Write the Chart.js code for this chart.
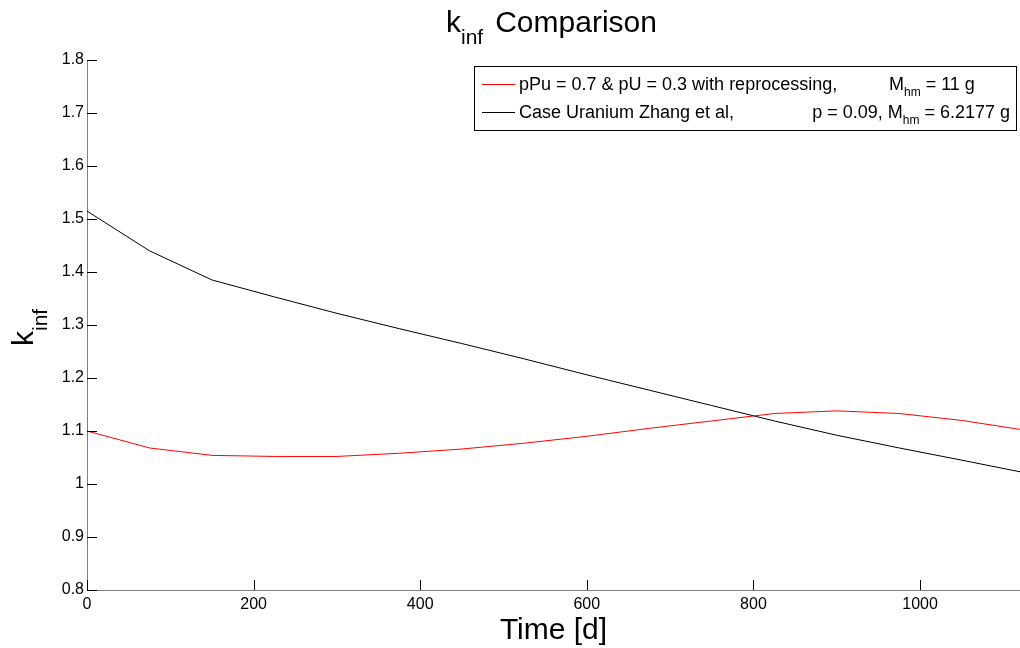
<!DOCTYPE html>
<html>
<head>
<meta charset="utf-8">
<script src="https://cdn.jsdelivr.net/npm/chart.js@4.4.1/dist/chart.umd.min.js"></script>
<style>
  html, body { margin: 0; padding: 0; background: #fff; }
  #wrap { width: 1020px; height: 648px; }
</style>
</head>
<body>
<div id="wrap"><canvas id="kinf"></canvas></div>
<script>
// time steps [d]
const days = [0, 75, 150, 225, 300, 375, 450, 525, 600, 675, 750, 825, 900, 975, 1050, 1120];
// k_inf, pPu = 0.7 & pU = 0.3 with reprocessing
const kinfPu = [1.100, 1.068, 1.054, 1.052, 1.052, 1.058, 1.066, 1.077, 1.090, 1.105, 1.119, 1.133, 1.138, 1.133, 1.120, 1.103];
// k_inf, uranium case Zhang et al
const kinfU = [1.515, 1.440, 1.385, 1.353, 1.322, 1.293, 1.265, 1.236, 1.206, 1.177, 1.148, 1.119, 1.092, 1.068, 1.045, 1.023];

const xTicks = [0, 200, 400, 600, 800, 1000];
const yTicks = [0.8, 0.9, 1.0, 1.1, 1.2, 1.3, 1.4, 1.5, 1.6, 1.7, 1.8];

const FONT = '"Liberation Sans", Arial, sans-serif';

function pts(xs, ys) {
  return xs.map((x, i) => ({ x: x, y: ys[i] }));
}

// draws base text with a subscript, returns end x
function subText(ctx, x, y, base, sub, size, subSize, drop) {
  ctx.font = size + 'px ' + FONT;
  ctx.fillText(base, x, y);
  x += ctx.measureText(base).width;
  ctx.font = subSize + 'px ' + FONT;
  ctx.fillText(sub, x, y + drop);
  return x + ctx.measureText(sub).width;
}

const decor = {
  id: 'decor',
  afterDatasetsDraw(chart) {
    const ctx = chart.ctx;
    const a = chart.chartArea;
    const xs = chart.scales.x, ys = chart.scales.y;
    ctx.save();

    // inward tick marks
    ctx.strokeStyle = '#000';
    ctx.lineWidth = 1;
    ctx.beginPath();
    xs.ticks.forEach(t => {
      const px = Math.round(xs.getPixelForValue(t.value)) + 0.5;
      ctx.moveTo(px, a.bottom);
      ctx.lineTo(px, a.bottom - 10);
    });
    ys.ticks.forEach(t => {
      const py = Math.round(ys.getPixelForValue(t.value)) + 0.5;
      ctx.moveTo(a.left, py);
      ctx.lineTo(a.left + 10, py);
    });
    ctx.stroke();

    ctx.fillStyle = '#000';
    ctx.textBaseline = 'alphabetic';
    ctx.textAlign = 'left';

    // title
    let tx = subText(ctx, 446, 32, 'k', 'inf', 30, 21, 12);
    ctx.font = '30px ' + FONT;
    ctx.fillText('Comparison', tx + 12, 32);

    // x axis title
    ctx.font = '30px ' + FONT;
    ctx.textAlign = 'center';
    ctx.fillText('Time [d]', (a.left + a.right) / 2, 639);
    ctx.textAlign = 'left';

    // y axis title, rotated
    ctx.save();
    ctx.translate(33, 346);
    ctx.rotate(-Math.PI / 2);
    subText(ctx, 0, 0, 'k', 'inf', 30, 21, 14);
    ctx.restore();

    // legend
    const lx = 474.5, ly = 66.5, lw = 542, lh = 64;
    ctx.fillStyle = '#fff';
    ctx.fillRect(lx, ly, lw, lh);
    ctx.strokeStyle = '#000';
    ctx.strokeRect(lx, ly, lw, lh);

    ctx.lineWidth = 1;
    ctx.strokeStyle = '#ff0000';
    ctx.beginPath();
    ctx.moveTo(482, 84.5); ctx.lineTo(515, 84.5);
    ctx.stroke();
    ctx.strokeStyle = '#000';
    ctx.beginPath();
    ctx.moveTo(482, 112.5); ctx.lineTo(515, 112.5);
    ctx.stroke();

    ctx.fillStyle = '#000';
    ctx.font = '18px ' + FONT;
    ctx.fillText('pPu = 0.7 & pU = 0.3 with reprocessing,', 519, 90);
    ctx.fillText('Case Uranium Zhang et al,', 519, 118);

    let ex = subText(ctx, 889, 90, 'M', 'hm', 18, 12, 6);
    ctx.font = '18px ' + FONT;
    ctx.fillText(' = 11 g', ex, 90);

    // second row right part, right aligned
    ctx.font = '18px ' + FONT;
    const w1 = ctx.measureText('p = 0.09, M').width;
    const w3 = ctx.measureText(' = 6.2177 g').width;
    ctx.font = '12px ' + FONT;
    const w2 = ctx.measureText('hm').width;
    let sx = 1010 - (w1 + w2 + w3);
    ex = subText(ctx, sx, 118, 'p = 0.09, M', 'hm', 18, 12, 6);
    ctx.font = '18px ' + FONT;
    ctx.fillText(' = 6.2177 g', ex, 118);

    ctx.restore();
  }
};

new Chart(document.getElementById('kinf'), {
  type: 'line',
  data: {
    datasets: [
      {
        label: 'pPu = 0.7 & pU = 0.3 with reprocessing, Mhm = 11 g',
        data: pts(days, kinfPu),
        borderColor: '#ff0000',
        borderWidth: 1,
        pointRadius: 0,
        tension: 0
      },
      {
        label: 'Case Uranium Zhang et al, p = 0.09, Mhm = 6.2177 g',
        data: pts(days, kinfU),
        borderColor: '#000000',
        borderWidth: 1,
        pointRadius: 0,
        tension: 0
      }
    ]
  },
  options: {
    responsive: true,
    maintainAspectRatio: false,
    animation: false,
    layout: { padding: { left: 0, top: 60, right: 0, bottom: 0 } },
    plugins: {
      legend: { display: false },
      title: { display: false },
      tooltip: { enabled: false }
    },
    scales: {
      x: {
        type: 'linear',
        min: 0,
        max: 1120,
        afterBuildTicks: s => { s.ticks = xTicks.map(v => ({ value: v })); },
        afterFit: s => { s.height = 58; },
        grid: { display: false, drawTicks: false },
        border: { display: true, color: '#808080', width: 1 },
        ticks: {
          color: '#000',
          padding: 5,
          maxRotation: 0,
          font: { family: FONT, size: 16 },
          callback: v => String(v)
        }
      },
      y: {
        type: 'linear',
        min: 0.8,
        max: 1.8,
        afterBuildTicks: s => { s.ticks = yTicks.map(v => ({ value: v })); },
        afterFit: s => { s.width = 87; },
        grid: { display: false, drawTicks: false },
        border: { display: true, color: '#808080', width: 1 },
        ticks: {
          color: '#000',
          padding: 3,
          font: { family: FONT, size: 16 },
          callback: v => String(Number(v.toFixed(1)))
        }
      }
    }
  },
  plugins: [decor]
});
</script>
</body>
</html>
